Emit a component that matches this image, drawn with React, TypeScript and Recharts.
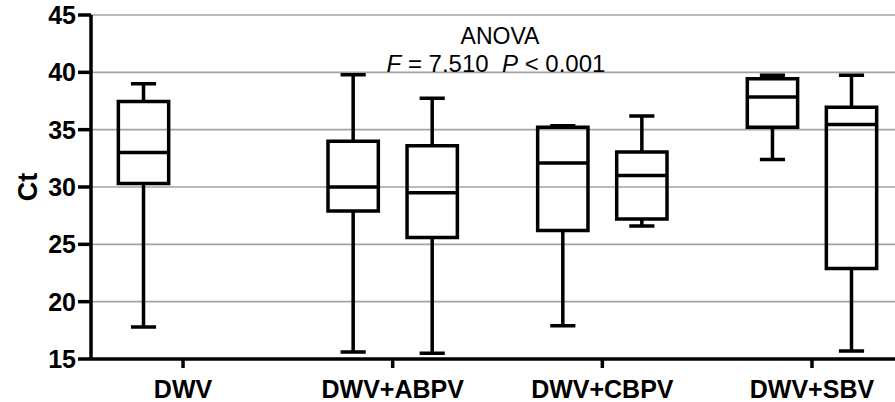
import React from 'react';
import { LineChart, Line, XAxis, YAxis, CartesianGrid, Customized } from 'recharts';

const groups = ['DWV', 'DWV+ABPV', 'DWV+CBPV', 'DWV+SBV'];
const yTicks = [15, 20, 25, 30, 35, 40, 45];

// one entry per box, left to right
const boxGroup = [1, 2, 2, 3, 3, 4, 4];
const boxSide = [-1, -1, 1, -1, 1, -1, 1];
const whiskerMin = [17.8, 15.6, 15.5, 17.9, 26.6, 32.4, 15.7];
const q1 = [30.3, 27.9, 25.6, 26.2, 27.2, 35.2, 22.9];
const median = [33.0, 30.0, 29.5, 32.1, 31.0, 37.85, 35.45];
const q3 = [37.45, 34.0, 33.6, 35.2, 33.05, 39.45, 36.95];
const whiskerMax = [39.0, 39.8, 37.75, 35.35, 36.2, 39.75, 39.75];

const SIDE_OFFSET = 0.1885;
const BOX_HALF = 0.12;
const CAP_HALF = 0.06;
const FONT = '"Liberation Sans", Arial, sans-serif';
const STROKE = 3.5;

const buildBox = (i: number) => {
  const c = boxGroup[i] + boxSide[i] * SIDE_OFFSET;
  const gap = { x: c, y: null };
  return [
    { x: c, y: q1[i] },
    { x: c + BOX_HALF, y: q1[i] },
    { x: c + BOX_HALF, y: q3[i] },
    { x: c - BOX_HALF, y: q3[i] },
    { x: c - BOX_HALF, y: q1[i] },
    { x: c, y: q1[i] },
    gap,
    { x: c - BOX_HALF, y: median[i] },
    { x: c + BOX_HALF, y: median[i] },
    gap,
    { x: c, y: q3[i] },
    { x: c, y: whiskerMax[i] },
    gap,
    { x: c - CAP_HALF, y: whiskerMax[i] },
    { x: c + CAP_HALF, y: whiskerMax[i] },
    gap,
    { x: c, y: q1[i] },
    { x: c, y: whiskerMin[i] },
    gap,
    { x: c - CAP_HALF, y: whiskerMin[i] },
    { x: c + CAP_HALF, y: whiskerMin[i] },
  ];
};

const AnovaText = () => (
  <g fontFamily={FONT} fill="#000" textAnchor="middle">
    <text x={500} y={44} fontSize={23}>ANOVA</text>
    <text x={496} y={72} fontSize={24} xmlSpace="preserve">
      <tspan fontStyle="italic">F</tspan>
      <tspan> = 7.510  </tspan>
      <tspan fontStyle="italic">P</tspan>
      <tspan> &lt; 0.001</tspan>
    </text>
  </g>
);

const App = () => {
  return (
    <div style={{ position: 'absolute', left: 0, top: 0, width: 895, height: 402, background: '#fff' }}>
      <LineChart width={895} height={402} margin={{ top: 15, right: 0, left: 0, bottom: 0 }}>
        <CartesianGrid horizontal vertical={false} stroke="#a3a3a3" strokeWidth={1.7} />
        <XAxis
          type="number"
          dataKey="x"
          domain={[0.561, 4.396]}
          allowDataOverflow
          ticks={[1, 2, 3, 4]}
          tickFormatter={(v: number) => groups[v - 1]}
          height={43}
          tickSize={9}
          tickMargin={12}
          tick={{ fill: '#000', fontSize: 25, fontWeight: 'bold', fontFamily: FONT }}
          axisLine={{ stroke: '#000', strokeWidth: STROKE }}
          tickLine={{ stroke: '#000', strokeWidth: STROKE }}
        />
        <YAxis
          type="number"
          domain={[15, 45]}
          ticks={yTicks}
          width={91}
          tickSize={13}
          tickMargin={2}
          tick={{ fill: '#000', fontSize: 25, fontWeight: 'bold', fontFamily: FONT }}
          axisLine={{ stroke: '#000', strokeWidth: STROKE }}
          tickLine={{ stroke: '#000', strokeWidth: STROKE }}
          label={{
            value: 'Ct',
            angle: -90,
            position: 'insideLeft',
            offset: 27,
            style: { fill: '#000', fontSize: 27, fontWeight: 'bold', fontFamily: FONT, textAnchor: 'middle' },
          }}
        />
        {boxGroup.map((_, i) => (
          <Line
            key={i}
            data={buildBox(i)}
            dataKey="y"
            type="linear"
            stroke="#000"
            strokeWidth={STROKE}
            strokeLinejoin="miter"
            strokeLinecap="butt"
            dot={false}
            activeDot={false}
            isAnimationActive={false}
          />
        ))}
        <Customized component={AnovaText} />
      </LineChart>
    </div>
  );
};

export default App;
